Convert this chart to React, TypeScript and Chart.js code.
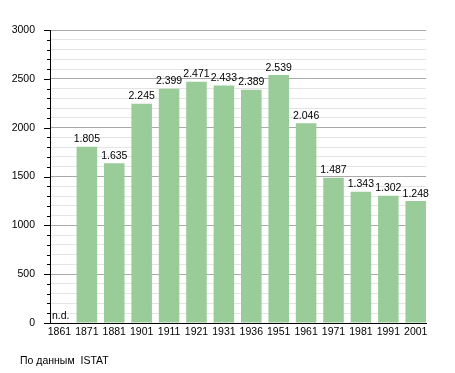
import React, { useEffect, useRef } from "react";
import { Chart, registerables } from "chart.js";

Chart.register(...registerables);

const years = ["1861", "1871", "1881", "1901", "1911", "1921", "1931", "1936", "1951", "1961", "1971", "1981", "1991", "2001"];
const population: (number | null)[] = [null, 1805, 1635, 2245, 2399, 2471, 2433, 2389, 2539, 2046, 1487, 1343, 1302, 1248];
const yMax = 3000;
const yStep = 100;
const majorStep = 500;
const missingLabel = "n.d.";
const sourceText = "По данным  ISTAT";

const FONT = "'Liberation Sans', Arial, sans-serif";
const FSIZE = 10.5;

function fmt(v: number): string {
  return String(v).replace(/\B(?=(\d{3})+(?!\d))/g, ".");
}

const overlayPlugin = {
  id: "overlay",
  afterDatasetsDraw(chart: any) {
    const ctx = chart.ctx;
    const meta = chart.getDatasetMeta(0);
    const area = chart.chartArea;
    ctx.save();
    ctx.font = `${FSIZE}px ${FONT}`;
    ctx.fillStyle = "#000";
    meta.data.forEach((bar: any, i: number) => {
      const v = population[i];
      if (v === null || v === undefined) {
        ctx.textAlign = "left";
        ctx.textBaseline = "bottom";
        ctx.fillText(missingLabel, area.left + 2, area.bottom - 2);
      } else {
        ctx.textAlign = "center";
        ctx.textBaseline = "bottom";
        ctx.fillText(fmt(v), bar.x, bar.y - 2);
      }
    });
    const y = chart.scales.y;
    ctx.strokeStyle = "#000";
    ctx.lineWidth = 1;
    y.ticks.forEach((t: any) => {
      const py = Math.round(y.getPixelForValue(t.value)) + 0.5;
      const len = t.value % majorStep === 0 ? 6 : 3;
      ctx.beginPath();
      ctx.moveTo(area.left - len, py);
      ctx.lineTo(area.left, py);
      ctx.stroke();
    });
    ctx.textAlign = "left";
    ctx.textBaseline = "middle";
    ctx.fillText(sourceText, 20, 361);
    ctx.restore();
  },
};

export default function App() {
  const ref = useRef<HTMLCanvasElement>(null);
  useEffect(() => {
    document.body.style.margin = "0";
    const chart = new Chart(ref.current!, {
      type: "bar",
      data: {
        datasets: [
          {
            data: population.map((v, i) => ({ x: i, y: v })) as any,
            backgroundColor: "#99cc99",
            borderWidth: 0,
            categoryPercentage: 1,
            barPercentage: 0.75,
          },
        ],
      },
      options: {
        responsive: false,
        animation: false,
        layout: { padding: { left: 0, top: 30, right: 29, bottom: 0 } },
        plugins: { legend: { display: false }, tooltip: { enabled: false } },
        scales: {
          x: {
            type: "linear",
            offset: false,
            min: -0.345,
            max: 13.375,
            grid: { display: false, drawTicks: false, offset: false },
            border: { color: "#000", width: 1 },
            ticks: {
              color: "#000",
              font: { family: FONT, size: FSIZE },
              padding: 3,
              maxRotation: 0,
              autoSkip: false,
              callback: (v: any) => years[Math.round(Number(v))] ?? "",
            },
            afterBuildTicks: (s: any) => {
              s.ticks = years.map((_, i) => ({ value: i }));
            },
            afterFit: (s: any) => {
              s.height = 50;
            },
          },
          y: {
            min: 0,
            max: yMax,
            grid: {
              drawTicks: false,
              color: (c: any) => (c.tick && c.tick.value % majorStep === 0 ? "#aaaaaa" : "#e4e4e4"),
            },
            border: { color: "#000", width: 1 },
            ticks: {
              stepSize: yStep,
              color: "#000",
              font: { family: FONT, size: FSIZE },
              padding: 15,
              autoSkip: false,
              callback: (v: any) => (Number(v) % majorStep === 0 ? String(v) : ""),
            },
            afterFit: (s: any) => {
              s.width = 50;
            },
          },
        },
      },
      plugins: [overlayPlugin],
    });
    return () => chart.destroy();
  }, []);
  return (
    <div style={{ position: "absolute", left: 0, top: 0, width: 455, height: 373 }}>
      <canvas ref={ref} width={455} height={373} />
    </div>
  );
}
